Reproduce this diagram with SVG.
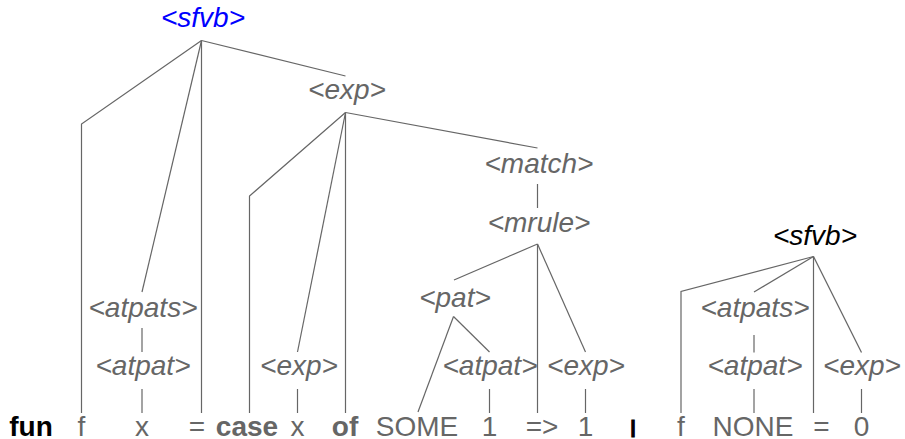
<svg xmlns="http://www.w3.org/2000/svg" width="905" height="439" viewBox="0 0 905 439">
<style>
text{font-family:"Liberation Sans",Arial,sans-serif;font-size:28px;text-anchor:middle}
.nt{font-style:italic;fill:#666}
.t{fill:#666}
.b{font-weight:bold}
.k{fill:#000}
.blue{fill:#0000ff}
#edges polyline,#edges line{stroke:#666;stroke-width:1.2;fill:none}
</style>
<rect width="905" height="439" fill="#fff"/>
<g id="edges">
<polyline points="201.5,40.5 81.5,124 81.5,413"/>
<line x1="201.5" y1="40.5" x2="142" y2="292"/>
<line x1="201.5" y1="40.5" x2="201.5" y2="413"/>
<line x1="201.5" y1="40.5" x2="345.5" y2="76"/>
<line x1="142" y1="328" x2="142" y2="352"/>
<line x1="142" y1="389" x2="142" y2="413"/>
<polyline points="345.5,112.5 249.5,196 249.5,413"/>
<line x1="345.5" y1="112.5" x2="297.5" y2="352"/>
<line x1="345.5" y1="112.5" x2="345.5" y2="413"/>
<line x1="345.5" y1="112.5" x2="537.5" y2="148"/>
<line x1="297.5" y1="389" x2="297.5" y2="413"/>
<line x1="537.5" y1="184" x2="537.5" y2="208"/>
<line x1="537.5" y1="244" x2="454" y2="280"/>
<line x1="537.5" y1="244" x2="537.5" y2="413"/>
<line x1="537.5" y1="244" x2="585.5" y2="352"/>
<line x1="453.5" y1="316.5" x2="418" y2="412"/>
<line x1="453.5" y1="316.5" x2="489.5" y2="352"/>
<line x1="489.5" y1="389" x2="489.5" y2="413"/>
<line x1="585.5" y1="389" x2="585.5" y2="413"/>
<polyline points="813.5,256.5 681,291.5 681,413"/>
<line x1="813.5" y1="256.5" x2="754" y2="292"/>
<line x1="813.5" y1="256.5" x2="813.5" y2="413"/>
<line x1="813.5" y1="256.5" x2="861.5" y2="352.5"/>
<line x1="754" y1="335" x2="754" y2="352.5"/>
<line x1="754" y1="389" x2="754" y2="413"/>
<line x1="861.5" y1="389" x2="861.5" y2="413"/>
</g>
<g id="sfvb1"><text class="nt blue" x="203" y="27" fill="#0000ff">&lt;sfvb&gt;</text></g>
<g id="atpats1"><text class="nt" x="143" y="317">&lt;atpats&gt;</text></g>
<g id="atpat1"><text class="nt" x="143" y="375">&lt;atpat&gt;</text></g>
<g id="exp1"><text class="nt" x="347" y="99">&lt;exp&gt;</text></g>
<g id="exp2"><text class="nt" x="299" y="375">&lt;exp&gt;</text></g>
<g id="match"><text class="nt" x="539" y="173">&lt;match&gt;</text></g>
<g id="mrule"><text class="nt" x="539" y="232">&lt;mrule&gt;</text></g>
<g id="pat"><text class="nt" x="455" y="307">&lt;pat&gt;</text></g>
<g id="atpat2"><text class="nt" x="490" y="375">&lt;atpat&gt;</text></g>
<g id="exp3"><text class="nt" x="586" y="375">&lt;exp&gt;</text></g>
<g id="sfvb2"><text class="nt k" x="815" y="245" fill="#000">&lt;sfvb&gt;</text></g>
<g id="atpats2"><text class="nt" x="755" y="317">&lt;atpats&gt;</text></g>
<g id="atpat3"><text class="nt" x="755" y="375">&lt;atpat&gt;</text></g>
<g id="exp4"><text class="nt" x="862" y="375">&lt;exp&gt;</text></g>
<g id="t-fun"><text class="b k" x="31" y="436" fill="#000">fun</text></g>
<g id="t-f1"><text class="t" x="81.5" y="436">f</text></g>
<g id="t-x1"><text class="t" x="142" y="436">x</text></g>
<g id="t-eq1"><text class="t" x="197" y="436">=</text></g>
<g id="t-case"><text class="t b" x="247" y="436">case</text></g>
<g id="t-x2"><text class="t" x="297.5" y="436">x</text></g>
<g id="t-of"><text class="t b" x="345" y="436">of</text></g>
<g id="t-some"><text class="t" x="417" y="436">SOME</text></g>
<g id="t-1a"><text class="t" x="489.5" y="436">1</text></g>
<g id="t-arrow"><text class="t" x="542" y="436">=&gt;</text></g>
<g id="t-1b"><text class="t" x="585.5" y="436">1</text></g>
<g id="t-bar"><text class="k b" x="633" y="432.5" fill="#000" stroke="#000" stroke-width="1.2" style="font-size:18px">|</text></g>
<g id="t-f2"><text class="t" x="681" y="436">f</text></g>
<g id="t-none"><text class="t" x="753" y="436">NONE</text></g>
<g id="t-eq2"><text class="t" x="821.5" y="436">=</text></g>
<g id="t-0"><text class="t" x="861.5" y="436">0</text></g>
</svg>
